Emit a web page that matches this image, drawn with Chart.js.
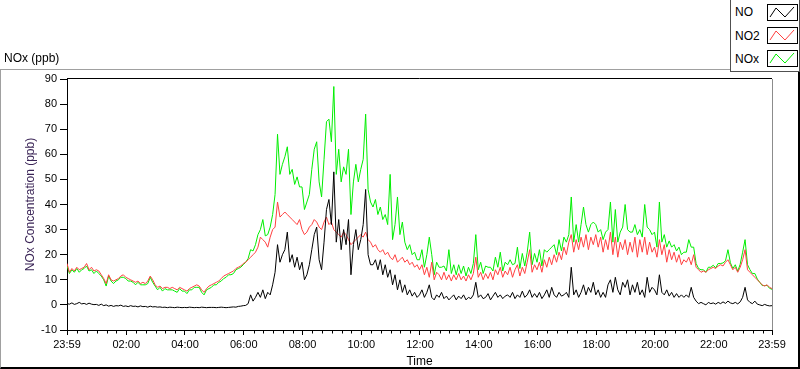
<!DOCTYPE html>
<html>
<head>
<meta charset="utf-8">
<script src="https://cdn.jsdelivr.net/npm/chart.js@4.4.1/dist/chart.umd.min.js"></script>
<style>
html,body{margin:0;padding:0;background:#fff;}
#wrap{position:relative;width:800px;height:369px;overflow:hidden;font-family:"Liberation Sans",Arial,sans-serif;color:#000;}
#frame{position:absolute;left:0;top:69px;width:800px;height:300px;box-sizing:border-box;border-top:1px solid #a0a0a0;border-left:1px solid #a0a0a0;border-right:2px solid #000;border-bottom:2px solid #000;}
#c{position:absolute;left:0;top:0;}
#toplabel{position:absolute;left:4px;top:51px;font-size:12px;line-height:14px;}
#legend{position:absolute;left:730px;top:-1px;width:70px;height:73px;box-sizing:border-box;border:1px solid #505050;background:#fff;}
.lt{position:absolute;left:735px;font-size:12px;line-height:14px;}
.li{position:absolute;left:767px;}
</style>
</head>
<body>
<div id="wrap">
  <div id="frame"></div>
  <canvas id="c" width="800" height="369"></canvas>
  <div id="toplabel">NOx (ppb)</div>
  <div id="legend"></div>
  <div class="lt" style="top:5px">NO</div>
  <div class="lt" style="top:29px">NO2</div>
  <div class="lt" style="top:52px">NOx</div>
  <svg class="li" style="top:4px" width="31" height="17"><rect x="0.5" y="0.5" width="30" height="16" fill="#fff" stroke="#000"/><polyline points="3,13 9,4 18,13 27,3" fill="none" stroke="#000" stroke-width="1"/></svg>
  <svg class="li" style="top:27px" width="31" height="17"><rect x="0.5" y="0.5" width="30" height="16" fill="#fff" stroke="#000"/><polyline points="3,13 9,4 18,13 27,3" fill="none" stroke="#ff4040" stroke-width="1"/></svg>
  <svg class="li" style="top:50px" width="31" height="17"><rect x="0.5" y="0.5" width="30" height="16" fill="#fff" stroke="#000"/><polyline points="3,13 9,4 18,13 27,3" fill="none" stroke="#00ee00" stroke-width="1"/></svg>
</div>
<script>
// minutes elapsed since 23:59 of the previous day, one sample every 5 minutes
const SAMPLE_MINUTES = 5;

const TICK_MINUTES = [0, 121, 241, 361, 481, 601, 721, 841, 961, 1081, 1201, 1321, 1440];
const TICK_LABELS  = ['23:59','02:00','04:00','06:00','08:00','10:00','12:00','14:00','16:00','18:00','20:00','22:00','23:59'];

const NO2 = [
 16.5,13,14.5,13.5,15,14,14.5,15,16.5,14,15,13.5,
 14,13.5,12,10.5,8.5,12,10,9.5,10,10.5,11.5,12,
 11,10.5,10,9.5,9,9.5,8.5,9,8.5,9.5,11.5,10,
 8,7,7.5,6.5,7,7,6.5,7,6.5,6,7,6.5,
 6,5.5,6.5,7,7.5,8,7.5,6,5,6.5,7.5,8,
 8.5,9,9.5,10.5,11.5,12,12.5,13,13.5,14.5,15,15.5,
 16.5,17,18,19,20,21,23,27,26,25,23,27,
 30,31,41,35,36,37,36,35,34,33,32,34,
 30,28,29,31,32,34,33,31,30,33,35,32,
 33,30,29,28,27,29,28,26,24,25,26,27,
 28,27,29,26,25,23,24,22,21,22,20,21,
 19,18,20,17,18,19,17,18,16,17,15,16,
 14,16,12,15,11,17,10,13,12,10,13,10,
 12,9.5,12,10,12.5,10,11.5,9.5,12,10,12.5,19,
 11,13,10,12.5,10.5,13,10,14,12,15,11,13.5,
 12,15,11,14,16,11.5,15,12.5,17,22,13,16,
 14,17,13,18,15,19,16,20,17,21,18,23,
 20,25,28,21,26,22,27,23,28,22,27,24,
 28,23,27,21,26,22,29,20,27,19,25,22,
 26,20,25,21,27,19,26,21,27,20,25,21,
 23,19,26,20,24,17,22,18,21,17,20,16,
 18,17,19,16,20,15,14,13,13.5,13,14,14.5,
 15,14.5,15.5,16,15.5,17,18,16,14,15,13,15,
 18,22,14,13,12,11,10,9,8,7.5,8,7,
 6.5
];

const NO = [
 0.5,0.3,0.8,0.2,0.5,1.0,0.4,0.6,0.2,0.7,0.3,0.1,
 0.2,-0.2,0.3,-0.3,0,-0.5,-0.2,-0.6,-0.3,-0.4,-0.1,-0.6,
 -0.4,-0.7,-0.3,-0.6,-0.5,-0.8,-0.4,-0.7,-0.6,-0.9,-0.5,-0.8,
 -0.7,-0.9,-0.8,-1.0,-0.9,-1.1,-0.9,-1.0,-1.1,-0.9,-1.0,-1.1,
 -1.0,-1.1,-0.9,-1.0,-1.1,-1.0,-1.1,-0.9,-1.0,-1.1,-1.0,-1.0,
 -1.0,-1.1,-1.0,-0.9,-1.0,-1.1,-1.0,-0.9,-0.8,-0.9,-0.6,-0.5,
 -0.3,-0.2,0.5,4,1.5,3,5,3,6,2.5,5,4,
 8,13,24,17,20,22,29,17,20,15,19,14,
 17,10,12,16,22,28,31,18,14,25,38,42,
 32,53,25,34,22,30,24,34,12,24,30,22,
 26,32,46,20,16,16,18,14,18,12,16,11,
 14,8,12,6,10,5,8,4,6,3.5,5,3,
 4,6,3,5,8,3,2,4,3,5,2.5,3.5,
 2,3,4,2,3.5,2.5,4,2,3,2.5,4,9,
 3,4,2.5,3,4.5,2,3.5,5,3,4,2.5,3.5,
 4,3,5,2.5,4,3,5.5,3,4,6,3,4.5,
 3,5,2.5,4,6,3,7,4,3,5,3.5,4,
 5,3,15,4,6,3,5,8,4,7,5,9,
 4,6,3,5,3,8,10,5,11,6,4,9,
 7,10,4,8,5,9,4,6,3,11,5,7,
 6,4,12,5,4,6,3.5,5,3,4.5,3,4,
 3,4,3,7,3,1.5,0.5,1,0.5,0,1,0.5,
 0.8,0.3,1,0.5,1.2,0.6,1.5,0.8,0.5,1,0.4,1.2,
 3,7,2,1,0.5,1.5,0.3,0,-0.3,0.2,-0.2,-0.4,
 -0.3
];

const NOX = [
 15.5,12.5,14,13,14.5,13,14,14.5,15.5,13.5,14,12.5,
 13.5,12.5,11.5,10,7.5,11.5,9.5,8.5,9.5,10,11,11,
 10.5,9.5,9.5,9,8,9,8,8,8,8.5,11,9,
 7.5,6,7,5.5,6.5,6,6,6,5.5,5,6.5,5.5,
 5.5,4.5,6,6,7,7,7,5,4,6,6.5,7,
 8,8,9,9.5,10.5,11,12,12,12.5,14,14.5,15,
 16,17,18.5,22,21.5,24,28,30,34,27.5,28,31,
 36,44,68,52,56,59,63,52,54,48,51,47,
 47,38,41,44,54,62,65,49,43,58,73,74,
 65,87,52,62,49,55,52,62,36,49,56,49,
 54,58,76,46,41,39,42,36,39,34,36,32,
 52,26,32,43,28,33,25,22,24,20,21,18,
 18,22,15,20,27,20,12,17,15,15,15.5,13.5,
 22,12.5,16,12,16,12.5,15.5,11.5,15,12.5,16.5,28,
 14,17,12.5,15.5,15,15,13.5,19,15,21,13.5,17,
 16,18,16,16.5,23,14.5,20.5,15.5,21,29,16,20.5,
 17,22,15.5,22,21,22,23,24,20,26,21.5,27,
 25,28,43,25,32,25,32,39,32,29,32,33,
 32,29,30,26,29,30,41,25,38,25,29,31,
 40,30,29,29,32,28,30,27,40,31,30,28,
 29,23,41,25,28,23,25.5,23,24,21.5,23,20,
 21,21,26,23,23,16.5,14.5,14,14,13,15,15,
 15.8,14.8,16.5,16.5,16.7,17.6,22,16.8,14.5,16,13.4,16.2,
 21,26,16,14,12.5,12.5,10.3,9,7.7,7.7,7.8,6.6,
 6.2
];

const FONT = '"Liberation Sans", Arial, sans-serif';
const toPoints = arr => arr.map((v, i) => ({x: i * SAMPLE_MINUTES, y: v}));

const minorTicks = [];
for (let m = 21; m <= 1421; m += 20) { if (!TICK_MINUTES.includes(m)) minorTicks.push(m); }

const framePlugin = {
  id: 'frame',
  afterDraw(chart) {
    const {ctx, chartArea: a} = chart;
    const xs = chart.scales.x;
    ctx.save();
    ctx.lineWidth = 1;
    ctx.strokeStyle = '#000';
    ctx.beginPath();
    ctx.moveTo(a.left, a.top - 0.5); ctx.lineTo(a.right, a.top - 0.5);
    ctx.stroke();
    ctx.strokeStyle = '#8c8c8c';
    ctx.beginPath();
    ctx.moveTo(a.right + 0.5, a.top); ctx.lineTo(a.right + 0.5, a.bottom);
    ctx.stroke();
    ctx.strokeStyle = '#000';
    ctx.beginPath();
    minorTicks.forEach(m => {
      const px = Math.round(xs.getPixelForValue(m)) + 0.5;
      ctx.moveTo(px, a.bottom); ctx.lineTo(px, a.bottom + 3.5);
    });
    ctx.stroke();
    ctx.restore();
  }
};

new Chart(document.getElementById('c'), {
  type: 'line',
  data: {
    datasets: [
      {label: 'NO',  data: toPoints(NO),  borderColor: '#000000', borderWidth: 1, pointRadius: 0, tension: 0},
      {label: 'NO2', data: toPoints(NO2), borderColor: '#ff4040', borderWidth: 1, pointRadius: 0, tension: 0},
      {label: 'NOx', data: toPoints(NOX), borderColor: '#00ee00', borderWidth: 1, pointRadius: 0, tension: 0}
    ]
  },
  options: {
    responsive: false,
    animation: false,
    layout: {padding: {left: 0, top: 79, right: 28, bottom: 0}},
    plugins: {legend: {display: false}, tooltip: {enabled: false}},
    scales: {
      x: {
        type: 'linear', min: 0, max: 1440,
        afterFit(s) { s.height = 39; },
        afterBuildTicks(s) { s.ticks = TICK_MINUTES.map(v => ({value: v})); },
        ticks: {
          autoSkip: false, maxRotation: 0, minRotation: 0, padding: 3, color: '#000',
          font: {family: FONT, size: 11},
          callback: (v, i) => TICK_LABELS[i]
        },
        grid: {display: true, drawOnChartArea: false, tickLength: 5, color: '#000', tickColor: '#000'},
        border: {display: true, color: '#000', width: 1},
        title: {display: true, text: 'Time', color: '#000', font: {family: FONT, size: 12}, padding: {top: 0, bottom: 0}}
      },
      y: {
        min: -10, max: 90,
        afterFit(s) { s.width = 67; },
        ticks: {stepSize: 10, padding: 3, color: '#000', font: {family: FONT, size: 11}},
        grid: {display: true, drawOnChartArea: false, tickLength: 7, color: '#000', tickColor: '#000'},
        border: {display: true, color: '#000', width: 1},
        title: {display: true, text: 'NOx Concentration (ppb)', color: '#3a2456', font: {family: FONT, size: 12}, padding: {top: 23, bottom: 0}}
      }
    }
  },
  plugins: [framePlugin]
});
</script>
</body>
</html>
